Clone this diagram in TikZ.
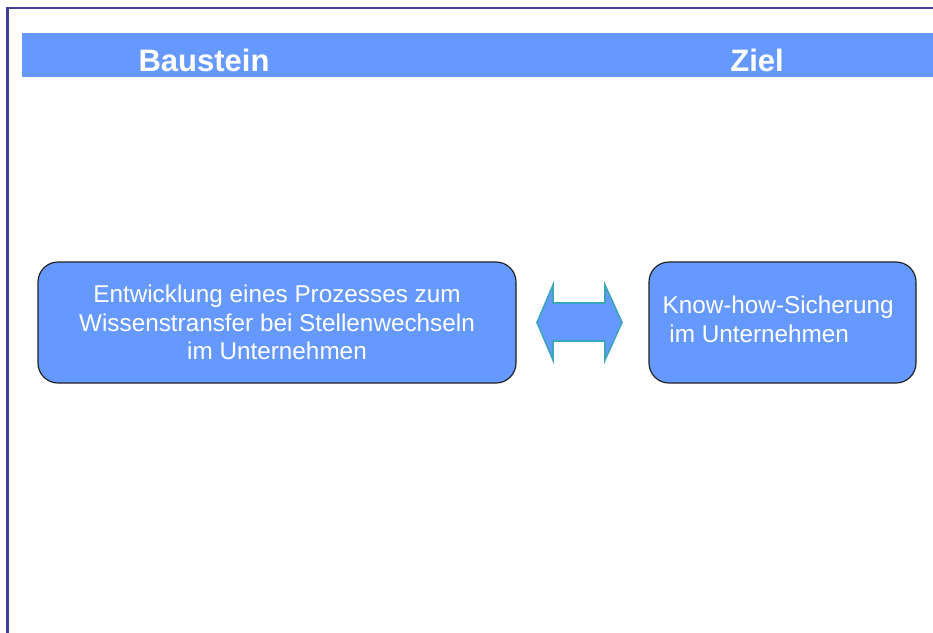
\documentclass[tikz,border=0pt]{standalone}
\usepackage{fontspec}
\setmainfont{Liberation Sans}
\usetikzlibrary{calc}
\definecolor{frameblue}{HTML}{40409A}
\definecolor{boxblue}{HTML}{6699FF}
\definecolor{boxedge}{HTML}{222222}
\definecolor{arrowedge}{HTML}{3AA6B9}
\begin{document}
\begin{tikzpicture}[x=1pt,y=-1pt,
  frameline/.style={draw=frameblue, line width=2.6pt},
  headbar/.style={fill=boxblue, draw=none, inner sep=0pt},
  headtext/.style={text=white, inner sep=0pt, font=\fontsize{31}{37}\selectfont\bfseries},
  blocktext/.style={text=white, inner sep=0pt, font=\fontsize{24.3}{28.5}\selectfont},
  block/.style={draw=boxedge, line width=1.2pt, fill=boxblue, rounded corners=20pt,
    inner sep=0pt, blocktext},
  linkarrow/.style={fill=boxblue, draw=arrowedge, line width=1.6pt, line join=miter}]
\useasboundingbox (0,0) rectangle (933,632);

% outer frame (left and top edges visible)
\draw[frameline] (7.5,640) -- (7.5,8) -- (940,8);

% header bar with column titles
\node[headbar, minimum width=911pt, minimum height=44pt, anchor=north west] (bar) at (22,33) {};
\node[headtext] (hbau) at (204,60) {Baustein};
\node[headtext] (hziel) at (757,60) {Ziel};

% building block and goal
\node[block, minimum width=478pt, minimum height=121pt, align=center] (bau) at (277,322.5)
  {Entwicklung eines Prozesses zum\\Wissenstransfer bei Stellenwechseln\\im Unternehmen};
\node[block, minimum width=267pt, minimum height=121pt] (ziel) at (782.5,322.5) {};
\node[blocktext, align=left, anchor=west] (zieltext) at ($(ziel.west)+(14,-3)$)
  {Know-how-Sicherung\\\hspace{0.28em}im Unternehmen};

% double arrow between them
\coordinate (mid) at ($(bau.east)!0.5!(ziel.west)+(-3,0)$);
\begin{scope}[shift={(mid)}]
  \draw[linkarrow] (-42.5,0) -- (-26.5,-37.5) -- (-26.5,-19.5) -- (25.5,-19.5) -- (25.5,-37.5)
    -- (42.5,0) -- (25.5,37.5) -- (25.5,18.5) -- (-26.5,18.5) -- (-26.5,37.5) -- cycle;
\end{scope}
\end{tikzpicture}
\end{document}
